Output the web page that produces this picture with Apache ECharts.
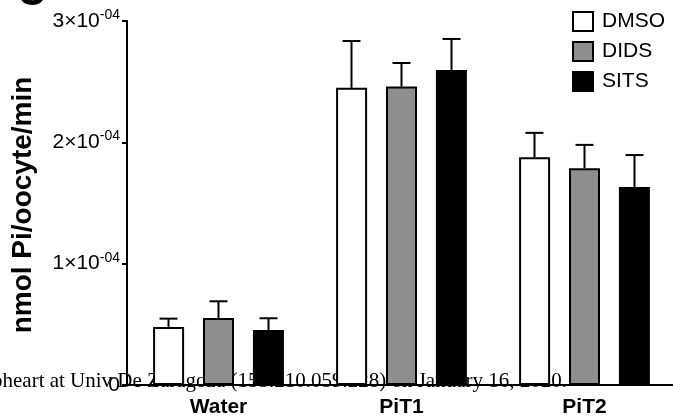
<!DOCTYPE html>
<html>
<head>
<meta charset="utf-8">
<script src="https://cdn.jsdelivr.net/npm/echarts@6/dist/echarts.min.js"></script>
<style>
html,body{margin:0;padding:0;background:#fff;}
#chart{width:673px;height:416px;}
</style>
</head>
<body>
<div id="chart"></div>
<script>
// ---- data ----
const categories = ['Water', 'PiT1', 'PiT2'];
const seriesNames = ['DMSO', 'DIDS', 'SITS'];
const dmso = [0.479e-4, 2.449e-4, 1.878e-4];
const dids = [0.553e-4, 2.460e-4, 1.787e-4];
const sits = [0.454e-4, 2.597e-4, 1.631e-4];
const dmsoErr = [0.068e-4, 0.386e-4, 0.200e-4];
const didsErr = [0.137e-4, 0.194e-4, 0.192e-4];
const sitsErr = [0.096e-4, 0.255e-4, 0.264e-4];
const yTicks = [0, 1e-4, 2e-4, 3e-4];
const yAxisTitle = 'nmol Pi/oocyte/min';
const watermark = 'pheart at Univ De Zaragoza (155.210.059.228) on January 16, 2020.';

const FONT = 'Liberation Sans, Arial, sans-serif';
const colors = ['#ffffff', '#8e8e8e', '#000000'];
const values = [dmso, dids, sits];
const errs = [dmsoErr, didsErr, sitsErr];
const offsets = [-50, 0, 50];

const chart = echarts.init(document.getElementById('chart'), null, {renderer: 'canvas'});

const series = [];
seriesNames.forEach((name, i) => {
  series.push({
    name: name,
    type: 'bar',
    data: values[i],
    barWidth: 31,
    barGap: '61%',
    itemStyle: {color: colors[i], borderColor: '#000', borderWidth: 2},
    z: 2
  });
});
seriesNames.forEach((name, i) => {
  series.push({
    name: name + ' err',
    type: 'custom',
    data: categories.map((c, k) => [k, values[i][k], errs[i][k]]),
    z: 3,
    renderItem: function (params, api) {
      const base = api.coord([api.value(0), api.value(1)]);
      const top = api.coord([api.value(0), api.value(1) + api.value(2)]);
      const x = base[0] + offsets[i];
      const st = {stroke: '#000', lineWidth: 2};
      return {
        type: 'group',
        children: [
          {type: 'line', shape: {x1: x, y1: base[1], x2: x, y2: top[1]}, style: st},
          {type: 'line', shape: {x1: x - 9, y1: top[1], x2: x + 9, y2: top[1]}, style: st}
        ]
      };
    }
  });
});

const option = {
  animation: false,
  backgroundColor: '#fff',
  grid: {left: 127, right: -3, top: 21, bottom: 31, containLabel: false, outerBoundsMode: 'none'},
  legend: {
    data: seriesNames,
    orient: 'vertical',
    left: 567,
    top: 6,
    itemWidth: 20,
    itemHeight: 19,
    itemGap: 9,
    icon: 'rect',
    textStyle: {fontFamily: FONT, fontSize: 21, color: '#000', padding: [0, 0, 0, 4]}
  },
  xAxis: {
    type: 'category',
    data: categories,
    axisLine: {lineStyle: {color: '#000', width: 2}},
    axisTick: {show: false},
    axisLabel: {fontFamily: FONT, fontSize: 21, fontWeight: 'bold', color: '#000', margin: 12}
  },
  yAxis: {
    type: 'value',
    min: yTicks[0],
    max: yTicks[yTicks.length - 1],
    interval: yTicks[1] - yTicks[0],
    splitLine: {show: false},
    axisLine: {show: true, lineStyle: {color: '#000', width: 2}},
    axisTick: {show: true, length: 5, lineStyle: {color: '#000', width: 2}},
    axisLabel: {
      margin: 7,
      formatter: function (v) {
        if (v === 0) return '{b|0}';
        return '{b|' + Math.round(v / 1e-4) + '×10}{s|-04}';
      },
      rich: {
        b: {fontFamily: FONT, fontSize: 21, color: '#000', lineHeight: 26},
        s: {fontFamily: FONT, fontSize: 14, color: '#000', verticalAlign: 'top', lineHeight: 14}
      }
    }
  },
  graphic: [
    {
      type: 'text', x: 23, y: 205, rotation: Math.PI / 2, z: 10,
      style: {text: yAxisTitle, fontFamily: FONT, fontSize: 28, fontWeight: 'bold', fill: '#000', align: 'center', verticalAlign: 'middle'}
    },
    {
      type: 'text', x: 17, y: -6, z: 10,
      style: {text: 'C', fontFamily: FONT, fontSize: 40, fontWeight: 'bold', fill: '#000', align: 'left', verticalAlign: 'middle'}
    },
    {
      type: 'text', x: -8, y: 381, z: 0,
      style: {text: watermark, fontFamily: 'Liberation Serif, Times New Roman, serif', fontSize: 21, fill: '#000', align: 'left', verticalAlign: 'middle'}
    }
  ],
  series: series
};
chart.setOption(option);
</script>
</body>
</html>
